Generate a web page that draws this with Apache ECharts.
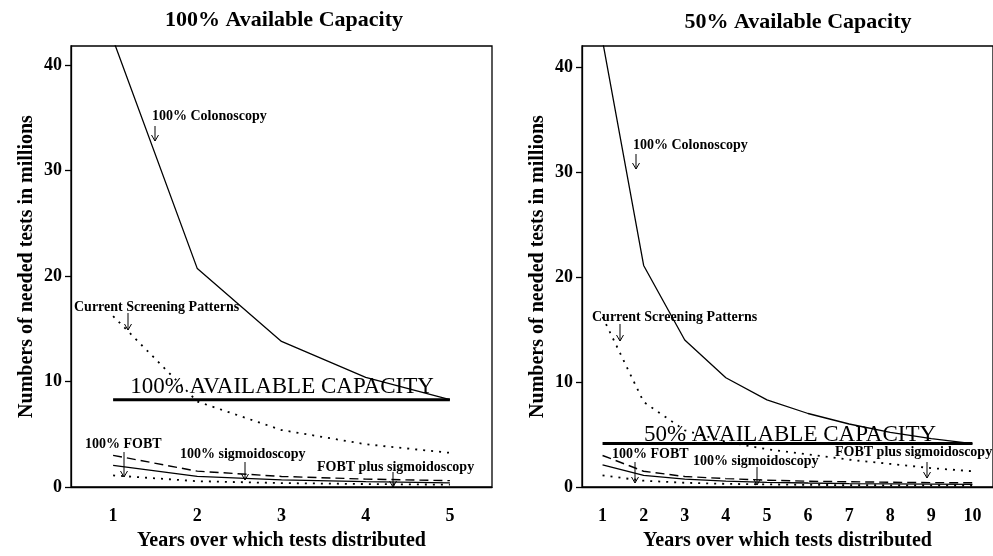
<!DOCTYPE html>
<html>
<head>
<meta charset="utf-8">
<script src="https://cdn.jsdelivr.net/npm/echarts@6/dist/echarts.min.js"></script>
<style>
  html, body { margin: 0; padding: 0; background: #fff; }
  #chart { width: 993px; height: 556px; }
</style>
</head>
<body>
<div id="chart"></div>
<script>
// 数据：左图 100% 容量（1-5 年），右图 50% 容量（1-10 年）
const yearsLeft = [1, 2, 3, 4, 5];
const yearsRight = [1, 2, 3, 4, 5, 6, 7, 8, 9, 10];
const yTicks = [0, 10, 20, 30, 40];

const colonLeft = [42.4, 20.7, 13.8, 10.4, 8.28];
const currentLeft = [16.2, 8.1, 5.4, 4.05, 3.24];
const capacityLeft = [8.28, 8.28, 8.28, 8.28, 8.28];
const sigmoidLeft = [3.0, 1.5, 1.0, 0.75, 0.6];
const fobtLeft = [2.05, 1.0, 0.68, 0.5, 0.4];
const comboLeft = [1.1, 0.55, 0.37, 0.28, 0.22];

const colonRight = [42.5, 21.1, 14.0, 10.4, 8.3, 7.0, 6.0, 5.2, 4.6, 4.14];
const currentRight = [16.2, 8.1, 5.4, 4.3, 3.6, 3.1, 2.6, 2.2, 1.8, 1.5];
const capacityRight = [4.14, 4.14, 4.14, 4.14, 4.14, 4.14, 4.14, 4.14, 4.14, 4.14];
const sigmoidRight = [3.0, 1.5, 1.0, 0.8, 0.65, 0.55, 0.5, 0.45, 0.42, 0.4];
const fobtRight = [2.1, 1.1, 0.75, 0.55, 0.45, 0.38, 0.33, 0.3, 0.27, 0.25];
const comboRight = [1.1, 0.6, 0.4, 0.3, 0.25, 0.2, 0.18, 0.16, 0.15, 0.14];

const SERIF = '"Liberation Serif", "DejaVu Serif", serif';

// 把 x 和 y 拼成点
const pairs = (xs, ys) => xs.map((x, i) => [x, ys[i]]);

function lineSeries(name, idx, xs, ys, type, width) {
    return {
        name: name, type: 'line', xAxisIndex: idx, yAxisIndex: idx,
        data: pairs(xs, ys), symbol: 'none', silent: true, clip: true,
        lineStyle: { color: '#000', width: width || 1.3, type: type || 'solid' }
    };
}

function xAxisFor(idx, maxX, ticks) {
    return {
        gridIndex: idx, type: 'value', min: 0.5, max: maxX,
        axisLine: { show: true, lineStyle: { color: '#000', width: 1.3 } },
        axisTick: { show: false },
        splitLine: { show: false },
        axisLabel: { customValues: ticks, color: '#000', fontFamily: SERIF, fontWeight: 'bold', fontSize: 18, margin: 20 },
        name: 'Years over which tests distributed', nameLocation: 'middle', nameGap: 44,
        nameTextStyle: { color: '#000', fontFamily: SERIF, fontWeight: 'bold', fontSize: 20 }
    };
}

function yAxisFor(idx, maxY) {
    return {
        gridIndex: idx, type: 'value', min: 0, max: maxY,
        axisLine: { show: true, lineStyle: { color: '#000', width: 1.3 } },
        axisTick: { show: true, customValues: yTicks, length: 6, lineStyle: { color: '#000', width: 1.3 } },
        splitLine: { show: false },
        axisLabel: { customValues: yTicks, color: '#000', fontFamily: SERIF, fontWeight: 'bold', fontSize: 18, margin: 9 },
        name: 'Numbers of needed tests in millions', nameLocation: 'middle', nameGap: 34, nameRotate: 90,
        nameTextStyle: { color: '#000', fontFamily: SERIF, fontWeight: 'bold', fontSize: 20 }
    };
}

// 注释文字和箭头
function note(text, x, y) {
    return { type: 'text', left: x, top: y - 8,
        style: { text: text, fill: '#000', font: 'bold 14px ' + SERIF } };
}
function arrow(x, y1, y2) {
    return { type: 'group', children: [
        { type: 'line', shape: { x1: x, y1: y1, x2: x, y2: y2 }, style: { stroke: '#000', lineWidth: 1 } },
        { type: 'polyline', shape: { points: [[x - 3.5, y2 - 6], [x, y2], [x + 3.5, y2 - 6]] }, style: { stroke: '#000', fill: null, lineWidth: 1 } }
    ] };
}
function capText(text, cx, cy) {
    return { type: 'text', x: cx, y: cy,
        style: { text: text, fill: '#000', font: '23px ' + SERIF, align: 'center', verticalAlign: 'middle' } };
}
function title(text, cx, cy) {
    return { type: 'text', x: cx, y: cy,
        style: { text: text, fill: '#000', font: 'bold 22px ' + SERIF, align: 'center', verticalAlign: 'middle' } };
}

const chart = echarts.init(document.getElementById('chart'), null, { renderer: 'canvas' });

const option = {
    backgroundColor: '#fff',
    animation: false,
    grid: [
        { left: 71, top: 46, width: 421, height: 445, show: true, borderColor: '#000', borderWidth: 1.3 },
        { left: 582, top: 46, width: 416, height: 447, show: true, borderColor: '#000', borderWidth: 1.3 }
    ],
    xAxis: [xAxisFor(0, 5.5, yearsLeft), xAxisFor(1, 10.5, yearsRight)],
    yAxis: [yAxisFor(0, 41.8), yAxisFor(1, 42)],
    series: [
        lineSeries('100% Colonoscopy', 0, yearsLeft, colonLeft),
        lineSeries('Current Screening Patterns', 0, yearsLeft, currentLeft, [2, 6], 1.8),
        lineSeries('100% Available Capacity', 0, yearsLeft, capacityLeft, 'solid', 3),
        lineSeries('100% sigmoidoscopy', 0, yearsLeft, sigmoidLeft, [9, 5], 1.4),
        lineSeries('100% FOBT', 0, yearsLeft, fobtLeft),
        lineSeries('FOBT plus sigmoidoscopy', 0, yearsLeft, comboLeft, [2, 6], 1.8),

        lineSeries('100% Colonoscopy', 1, yearsRight, colonRight),
        lineSeries('Current Screening Patterns', 1, yearsRight, currentRight, [2, 6], 1.8),
        lineSeries('50% Available Capacity', 1, yearsRight, capacityRight, 'solid', 3),
        lineSeries('100% sigmoidoscopy', 1, yearsRight, sigmoidRight, [9, 5], 1.4),
        lineSeries('100% FOBT', 1, yearsRight, fobtRight),
        lineSeries('FOBT plus sigmoidoscopy', 1, yearsRight, comboRight, [2, 6], 1.8)
    ],
    graphic: [
        title('100% Available Capacity', 284, 20),
        title('50% Available Capacity', 798, 22),

        capText('100% AVAILABLE CAPACITY', 282, 387),
        capText('50% AVAILABLE CAPACITY', 790, 435),

        note('100% Colonoscopy', 152, 117), arrow(155, 126, 141),
        note('Current Screening Patterns', 74, 308), arrow(128, 313, 330),
        note('100% FOBT', 85, 445), arrow(124, 452, 477),
        note('100% sigmoidoscopy', 180, 455), arrow(245, 462, 480),
        note('FOBT plus sigmoidoscopy', 317, 468), arrow(393, 472, 487),

        note('100% Colonoscopy', 633, 146), arrow(636, 154, 169),
        note('Current Screening Patterns', 592, 318), arrow(620, 324, 341),
        note('100% FOBT', 612, 455), arrow(635, 462, 483),
        note('100% sigmoidoscopy', 693, 462), arrow(757, 467, 485),
        note('FOBT plus sigmoidoscopy', 835, 453), arrow(927, 462, 478)
    ]
};

chart.setOption(option);
</script>
</body>
</html>
